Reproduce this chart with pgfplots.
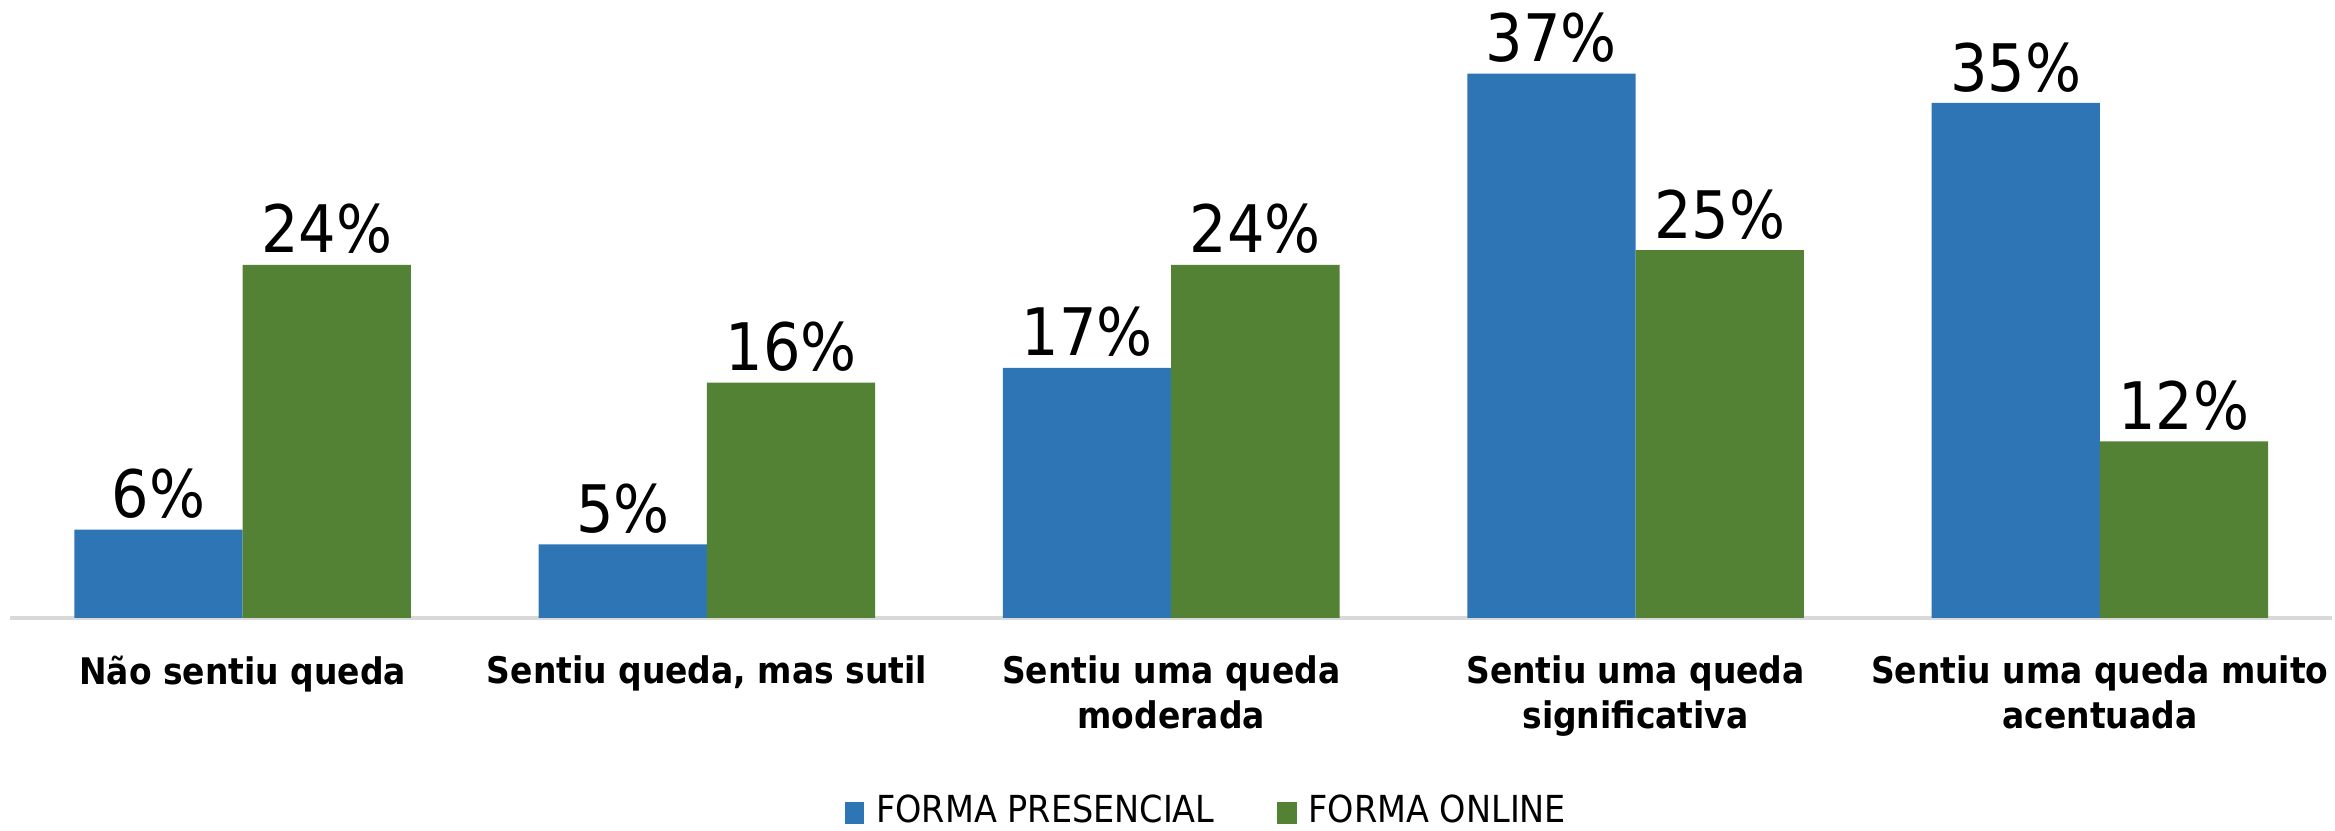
\documentclass[border=0pt]{standalone}
\usepackage{fontspec}
\setmainfont{DejaVu Sans Condensed}
\usepackage{pgfplots}
\pgfplotsset{compat=1.18}
\definecolor{presencial}{HTML}{2E75B6}
\definecolor{online}{HTML}{548235}
\definecolor{baseline}{HTML}{D9D9D9}
\begin{document}
\begin{tikzpicture}
\begin{axis}[
    scale only axis,
    width=779.5pt, height=207.5pt,
    ybar=0pt,
    bar width=56.5pt,
    xmin=-0.5, xmax=4.5,
    ymin=0, ymax=42,
    clip=false,
    axis y line=none,
    axis x line*=bottom,
    x axis line style={draw=baseline, line width=1.2pt, -},
    xtick={0,1,2,3,4},
    xtick style={draw=none},
    xticklabels={{Não sentiu queda},{Sentiu queda, mas sutil},{Sentiu uma queda\\moderada},{Sentiu uma queda\\significativa},{Sentiu uma queda muito\\acentuada}},
    xticklabel style={font=\bfseries\fontsize{12.3}{15}\selectfont, align=center, yshift=-5pt},
    nodes near coords={\pgfmathprintnumber[assume math mode=true]{\pgfplotspointmeta}\%},
    nodes near coords style={font=\fontsize{22}{24}\selectfont, anchor=base, inner sep=0pt, yshift=4pt},
    legend columns=2,
    legend style={at={(0.516,-0.313)}, anchor=center, draw=none, font=\fontsize{12.5}{14}\selectfont,
        /tikz/every odd column/.append style={column sep=2pt},
        /tikz/every even column/.append style={column sep=19pt}},
    legend image code/.code={\draw[#1,draw=none] (0pt,-4.2pt) rectangle (6.6pt,3.2pt);},
]
\addplot[fill=presencial, draw=none] coordinates {(0,6) (1,5) (2,17) (3,37) (4,35)};
\addplot[fill=online, draw=none] coordinates {(0,24) (1,16) (2,24) (3,25) (4,12)};
\legend{FORMA PRESENCIAL, FORMA ONLINE}
\coordinate (sw) at (rel axis cs:0,0);
\coordinate (ne) at (rel axis cs:1,1);
\end{axis}
\pgfresetboundingbox
\path ([xshift=-3.5pt,yshift=-71.5pt]sw) rectangle ([xshift=1pt]ne);
\end{tikzpicture}
\end{document}
